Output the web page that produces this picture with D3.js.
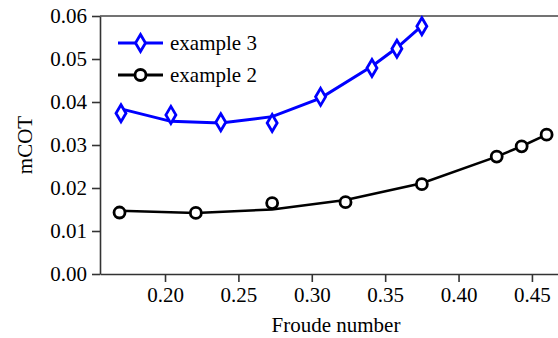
<!DOCTYPE html>
<html lang="en">
<head>
  <meta charset="UTF-8">
  <title>mCOT vs Froude number</title>
  <script src="https://cdn.jsdelivr.net/npm/d3@7/dist/d3.min.js"></script>
  <style>
    body { margin: 0; background: #fff; }
    text { font-family: "Liberation Serif", "Times New Roman", serif; }
  </style>
</head>
<body>
  <div id="wrapper"></div>
  <script>
    // example 3 (blue diamonds): measured points and fitted curve
    const froude3 = [0.170, 0.204, 0.238, 0.273, 0.306, 0.341, 0.358, 0.375]
    const cot3 = [0.0374, 0.0370, 0.0353, 0.0351, 0.0412, 0.0479, 0.0524, 0.0576]
    const fit3 = [0.0384, 0.0355, 0.0351, 0.0366, 0.0409, 0.0483, 0.0526, 0.0577]

    // example 2 (black circles)
    const froude2 = [0.169, 0.221, 0.273, 0.323, 0.375, 0.426, 0.443, 0.460]
    const cot2 = [0.0143, 0.0142, 0.0165, 0.0167, 0.0209, 0.0273, 0.0297, 0.0324]
    const fit2 = [0.0147, 0.0142, 0.0150, 0.0172, 0.0211, 0.0273, 0.0297, 0.0324]

    const xTicks = [0.20, 0.25, 0.30, 0.35, 0.40, 0.45]
    const yTicks = [0.00, 0.01, 0.02, 0.03, 0.04, 0.05, 0.06]

    const dimensions = {
      width: 558,
      height: 338,
      margin: { top: 16, right: -14, bottom: 64, left: 100 }
    }
    dimensions.boundedWidth = dimensions.width - dimensions.margin.left - dimensions.margin.right
    dimensions.boundedHeight = dimensions.height - dimensions.margin.top - dimensions.margin.bottom

    const svg = d3.select("#wrapper").append("svg")
      .attr("width", dimensions.width)
      .attr("height", dimensions.height)
    const bounds = svg.append("g")
      .attr("transform", `translate(${dimensions.margin.left},${dimensions.margin.top})`)

    const xScale = d3.scaleLinear()
      .domain([0.1557, 0.4773])
      .range([0, dimensions.boundedWidth])
    const yScale = d3.scaleLinear()
      .domain([0, 0.06])
      .range([dimensions.boundedHeight, 0])

    // axes
    const xAxis = bounds.append("g")
      .attr("transform", `translate(0,${dimensions.boundedHeight})`)
      .call(d3.axisBottom(xScale).tickValues(xTicks).tickFormat(d3.format(".2f"))
        .tickSize(8).tickSizeOuter(0).tickPadding(5))
    const yAxis = bounds.append("g")
      .call(d3.axisLeft(yScale).tickValues(yTicks).tickFormat(d3.format(".2f"))
        .tickSize(8).tickSizeOuter(0).tickPadding(5))
    ;[xAxis, yAxis].forEach(ax => {
      ax.select(".domain").attr("stroke", "#333").attr("stroke-width", 1.6)
      ax.selectAll(".tick line").attr("stroke", "#333").attr("stroke-width", 1.6)
      ax.selectAll(".tick text").attr("fill", "#000").style("font-size", "21px")
        .style("font-family", "'Liberation Serif', serif")
    })
    // top spine
    bounds.append("line")
      .attr("x1", 0).attr("x2", dimensions.boundedWidth)
      .attr("y1", 0).attr("y2", 0)
      .attr("stroke", "#444").attr("stroke-width", 1.4)

    // axis titles
    svg.append("text")
      .attr("x", dimensions.margin.left + dimensions.boundedWidth / 2)
      .attr("y", 332)
      .attr("text-anchor", "middle")
      .style("font-size", "21px")
      .text("Froude number")
    svg.append("text")
      .attr("transform", `translate(32,${dimensions.margin.top + dimensions.boundedHeight / 2}) rotate(-90)`)
      .attr("text-anchor", "middle")
      .style("font-size", "21px")
      .text("mCOT")

    const lineGenerator = d3.line()
      .x(d => xScale(d[0]))
      .y(d => yScale(d[1]))

    const diamond = "M0,-8.5L5,0L0,8.5L-5,0Z"

    function drawSeries(xs, ys, fit, color, width, marker) {
      bounds.append("path")
        .attr("d", lineGenerator(xs.map((x, i) => [x, fit[i]])))
        .attr("fill", "none")
        .attr("stroke", color)
        .attr("stroke-width", width)
      const pts = bounds.append("g").selectAll("g").data(xs.map((x, i) => [x, ys[i]])).join("g")
        .attr("transform", d => `translate(${xScale(d[0])},${yScale(d[1])})`)
      if (marker === "diamond") {
        pts.append("path").attr("d", diamond)
          .attr("fill", "#fff").attr("stroke", color).attr("stroke-width", 2.8)
      } else {
        pts.append("circle").attr("r", 5.5)
          .attr("fill", "#fff").attr("stroke", color).attr("stroke-width", 2.8)
      }
    }

    drawSeries(froude2, cot2, fit2, "#000", 2.6, "circle")
    drawSeries(froude3, cot3, fit3, "#0000ff", 3, "diamond")

    // legend
    const legend = [
      { name: "example 3", color: "#0000ff", marker: "diamond", y: 43 },
      { name: "example 2", color: "#000", marker: "circle", y: 75 }
    ]
    legend.forEach(l => {
      svg.append("line")
        .attr("x1", 118).attr("x2", 163).attr("y1", l.y).attr("y2", l.y)
        .attr("stroke", l.color).attr("stroke-width", 3)
      if (l.marker === "diamond") {
        svg.append("path").attr("d", diamond)
          .attr("transform", `translate(140.5,${l.y})`)
          .attr("fill", "#fff").attr("stroke", l.color).attr("stroke-width", 2.8)
      } else {
        svg.append("circle").attr("cx", 140.5).attr("cy", l.y).attr("r", 5.5)
          .attr("fill", "#fff").attr("stroke", l.color).attr("stroke-width", 2.8)
      }
      svg.append("text")
        .attr("x", 170).attr("y", l.y + 7)
        .style("font-size", "21px")
        .text(l.name)
    })
  </script>
</body>
</html>
